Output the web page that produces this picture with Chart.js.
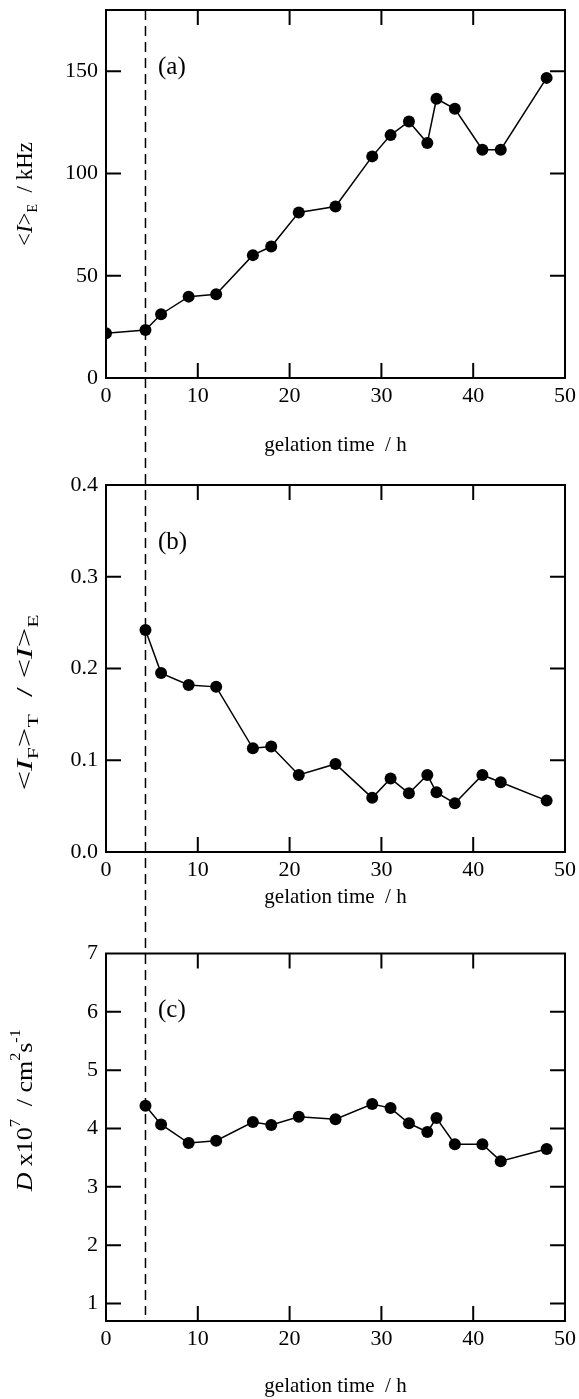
<!DOCTYPE html>
<html>
<head>
<meta charset="utf-8">
<script src="https://cdn.jsdelivr.net/npm/chart.js@4.4.1/dist/chart.umd.min.js"></script>
<style>
html, body { margin: 0; padding: 0; background: #fff; }
#wrap { position: relative; width: 579px; height: 1399px; }
canvas { position: absolute; left: 0; }
</style>
</head>
<body>
<div id="wrap">
  <canvas id="chartA" width="579" height="460" style="top:0px"></canvas>
  <canvas id="chartB" width="579" height="470" style="top:460px"></canvas>
  <canvas id="chartC" width="579" height="469" style="top:930px"></canvas>
</div>
<script>
// gelation time (h)
const timeA = [0, 4.3, 6, 9, 12, 16, 18, 21, 25, 29, 31, 33, 35, 36, 38, 41, 43, 48];
const timeBC = [4.3, 6, 9, 12, 16, 18, 21, 25, 29, 31, 33, 35, 36, 38, 41, 43, 48];

// (a) <I>E / kHz
const intensityE = [21.9, 23.5, 31.2, 39.8, 41, 60.1, 64.3, 81, 83.9, 108.4, 118.8, 125.5, 114.9, 136.6, 131.7, 111.7, 111.7, 146.8];
// (b) <IF>T / <I>E
const ratioFT = [0.242, 0.195, 0.182, 0.180, 0.113, 0.115, 0.084, 0.096, 0.059, 0.080, 0.064, 0.084, 0.065, 0.053, 0.084, 0.076, 0.056];
// (c) D x10^7 / cm^2 s^-1
const diffD = [4.39, 4.07, 3.75, 3.79, 4.11, 4.06, 4.20, 4.16, 4.42, 4.35, 4.09, 3.94, 4.18, 3.73, 3.73, 3.44, 3.65];

const xTicks = [0, 10, 20, 30, 40, 50];
const yTicksA = [0, 50, 100, 150];
const yTicksB = [0, 0.1, 0.2, 0.3, 0.4];
const yTicksC = [1, 2, 3, 4, 5, 6, 7];
const onsetTime = 4.3;

const serif = '"Liberation Serif", "Times New Roman", serif';
const dashStartAbs = 10; // page y where the dashed line begins

function drawRich(ctx, segs, cx, cy, size, stretch) {
  ctx.save();
  ctx.translate(cx, cy);
  ctx.rotate(-Math.PI / 2);
  ctx.scale(stretch, 1);
  ctx.textBaseline = 'middle';
  ctx.textAlign = 'left';
  ctx.fillStyle = '#000';
  const fontOf = s => (s.i ? 'italic ' : '') + Math.round((s.sub || s.sup) ? size * 0.62 : size) + 'px ' + serif;
  let total = 0;
  segs.forEach(s => { ctx.font = fontOf(s); total += ctx.measureText(s.t).width; });
  let x = -total / 2;
  segs.forEach(s => {
    ctx.font = fontOf(s);
    let y = 0;
    if (s.sub) y = size * 0.32;
    if (s.sup) y = -size * 0.42;
    ctx.fillText(s.t, x, y);
    x += ctx.measureText(s.t).width;
  });
  ctx.restore();
}

const framePlugin = {
  id: 'frame',
  beforeDatasetsDraw(chart, args, opts) {
    const ctx = chart.ctx;
    const area = chart.chartArea;
    const x = chart.scales.x.getPixelForValue(onsetTime);
    const y0 = opts.dashFromArea ? area.top : 0;
    const y1 = opts.dashToArea ? area.bottom - 6 : chart.height;
    ctx.save();
    ctx.strokeStyle = '#000';
    ctx.lineWidth = 1.5;
    ctx.setLineDash([10, 6]);
    ctx.lineDashOffset = opts.canvasTop + y0 - dashStartAbs;
    ctx.beginPath();
    ctx.moveTo(x, y0);
    ctx.lineTo(x, y1);
    ctx.stroke();
    ctx.restore();
  },
  afterDraw(chart, args, opts) {
    const ctx = chart.ctx;
    const a = chart.chartArea;
    const xs = chart.scales.x, ys = chart.scales.y;
    const tl = 15;
    ctx.save();
    ctx.strokeStyle = '#000';
    ctx.lineWidth = 2;
    ctx.strokeRect(a.left, a.top, a.right - a.left, a.bottom - a.top);
    ctx.beginPath();
    xs.ticks.forEach(t => {
      const px = xs.getPixelForValue(t.value);
      if (px <= a.left + 1 || px >= a.right - 1) return;
      ctx.moveTo(px, a.bottom); ctx.lineTo(px, a.bottom - tl);
      ctx.moveTo(px, a.top); ctx.lineTo(px, a.top + tl);
    });
    ys.ticks.forEach(t => {
      const py = ys.getPixelForValue(t.value);
      if (py <= a.top + 1 || py >= a.bottom - 1) return;
      ctx.moveTo(a.left, py); ctx.lineTo(a.left + tl, py);
      ctx.moveTo(a.right, py); ctx.lineTo(a.right - tl, py);
    });
    ctx.stroke();
    ctx.fillStyle = '#000';
    ctx.font = '25px ' + serif;
    ctx.textAlign = 'left';
    ctx.textBaseline = 'middle';
    ctx.fillText(opts.label, 158, a.top + 57);
    drawRich(ctx, opts.yTitle, 26, (a.top + a.bottom) / 2 + opts.yTitleShift, opts.yTitleSize, opts.yTitleStretch);
    ctx.restore();
  }
};

function makeChart(id, xs, ys, yMin, yMax, yTicks, tickFmt, frame, geom) {
  return new Chart(document.getElementById(id), {
    type: 'line',
    data: {
      datasets: [{
        data: xs.map((t, i) => ({ x: t, y: ys[i] })),
        borderColor: '#000',
        backgroundColor: '#000',
        borderWidth: 1.5,
        pointRadius: 6,
        pointBackgroundColor: '#000',
        pointBorderWidth: 0,
        tension: 0,
        fill: false
      }]
    },
    options: {
      responsive: false,
      animation: false,
      devicePixelRatio: 1,
      layout: { padding: { left: 0, right: 14, top: geom.top, bottom: 0 } },
      plugins: {
        legend: { display: false },
        tooltip: { enabled: false },
        frame: frame
      },
      scales: {
        x: {
          type: 'linear',
          min: 0,
          max: 50,
          border: { display: false },
          grid: { display: false, drawTicks: false },
          afterBuildTicks: s => { s.ticks = xTicks.map(v => ({ value: v })); },
          afterFit: s => { s.height = geom.xh; s.paddingLeft = 0; s.paddingRight = 0; },
          ticks: { color: '#000', padding: 5, maxRotation: 0, font: { family: serif, size: 22 } },
          title: {
            display: true,
            text: 'gelation time  / h',
            color: '#000',
            padding: { top: 0, bottom: geom.titlePad },
            font: { family: serif, size: 21 }
          }
        },
        y: {
          type: 'linear',
          min: yMin,
          max: yMax,
          border: { display: false },
          grid: { display: false, drawTicks: false },
          afterBuildTicks: s => { s.ticks = yTicks.map(v => ({ value: v })); },
          afterFit: s => { s.width = 106; s.paddingTop = 0; s.paddingBottom = 0; },
          ticks: { color: '#000', padding: 8, callback: tickFmt, font: { family: serif, size: 22 } }
        }
      }
    },
    plugins: [framePlugin]
  });
}

makeChart('chartA', timeA, intensityE, 0, 180, yTicksA, v => String(v), {
  label: '(a)', canvasTop: 0, dashFromArea: true, dashToArea: false,
  yTitleShift: 0, yTitleSize: 23, yTitleStretch: 1,
  yTitle: [{ t: '<' }, { t: 'I', i: 1 }, { t: '>' }, { t: 'E', sub: 1 }, { t: '  / kHz' }]
}, { top: 10, xh: 82, titlePad: 2 });

makeChart('chartB', timeBC, ratioFT, 0, 0.4, yTicksB, v => v.toFixed(1), {
  label: '(b)', canvasTop: 460, dashFromArea: false, dashToArea: false,
  yTitleShift: 34, yTitleSize: 24, yTitleStretch: 1.45,
  yTitle: [{ t: '<' }, { t: 'I', i: 1 }, { t: 'F', sub: 1 }, { t: '>' }, { t: 'T', sub: 1 },
           { t: '  / <' }, { t: 'I', i: 1 }, { t: '>' }, { t: 'E', sub: 1 }]
}, { top: 25, xh: 78, titlePad: 20 });

makeChart('chartC', timeBC, diffD, 0.7, 7, yTicksC, v => String(v), {
  label: '(c)', canvasTop: 930, dashFromArea: false, dashToArea: true,
  yTitleShift: -27, yTitleSize: 24, yTitleStretch: 1.08,
  yTitle: [{ t: 'D', i: 1 }, { t: ' x10' }, { t: '7', sup: 1 }, { t: '  / cm' }, { t: '2', sup: 1 },
           { t: 's' }, { t: '-1', sup: 1 }]
}, { top: 23.5, xh: 78, titlePad: 0 });
</script>
</body>
</html>
